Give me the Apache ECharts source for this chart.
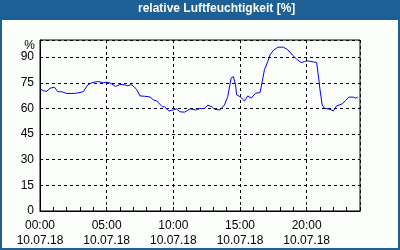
<!DOCTYPE html>
<html><head><meta charset="utf-8">
<script src="https://cdn.jsdelivr.net/npm/echarts@6/dist/echarts.min.js"></script>
<style>html,body{margin:0;padding:0;background:#1c6096;}#c{width:400px;height:250px;}</style>
</head><body><div id="c"></div>
<script>
const titleText = 'relative Luftfeuchtigkeit [%]';
const unitLabel = '%';
const dateLabel = '10.07.18';
const times = ['00:00','00:15','00:30','00:45','01:05','01:20','01:40','02:00','02:40','03:00','03:15','03:35','03:55','04:20','04:45','05:00','05:15','05:40','06:00','06:20','06:35','06:50','07:05','07:15','07:30','07:50','08:15','08:30','08:45','09:10','09:20','09:40','10:00','10:15','10:30','10:50','11:15','11:40','12:00','12:20','12:35','12:55','13:05','13:30','13:50','14:05','14:20','14:30','14:40','14:45','15:00','15:20','15:35','15:50','16:10','16:30','16:40','16:50','17:05','17:15','17:30','17:50','18:15','18:35','18:55','19:15','19:35','19:50','20:05','20:30','20:45','20:55','21:00','21:10','21:20','21:45','22:00','22:15','22:40','22:55','23:10','23:30','23:40','23:50'];
const humidity = [71.4,70.3,70,71.8,72.4,69.8,69.7,68.7,68.8,69.3,69.8,73.8,75.1,75.7,75.1,75.3,74.9,72.8,74,73.8,73.2,74,72.5,71,67.3,67.1,66.7,65,64.4,61,61,58.5,59.1,59.7,58,57.8,59.7,59.1,59.9,59.9,61.9,60.9,59.5,59.1,62,66.9,77.7,78.6,73.8,67.9,66.9,64.4,67.3,66,68.9,69.2,75.7,82.6,87.4,91.3,93.9,95.8,95.8,94.3,91.3,88.8,86.8,87.4,87.8,87.2,86.8,76.7,70.8,62,60.1,59.5,58.5,61.5,62.6,64.6,66.6,66.6,66,66.6];
const yTicks = [0,15,30,45,60,75,90];

function toMin(s){const p=s.split(':');return (+p[0])*60+(+p[1]);}
const data = times.map((t,i)=>[toMin(t),humidity[i]]);
const chart = echarts.init(document.getElementById('c'),null,{renderer:'canvas'});
const font = 'Liberation Sans';
chart.setOption({
  animation:false,
  backgroundColor:'#1c6096',
  graphic:[
    {type:'rect',z:-10,shape:{x:2,y:20,width:396,height:228},style:{fill:'#fbfefb'}},
    {type:'text',left:138,top:3,style:{text:titleText,fill:'#ffffff',font:'bold 12px "Liberation Sans"'}},
    {type:'text',x:35,y:46,style:{text:unitLabel,fill:'#000',font:'12px "Liberation Sans"',align:'right',verticalAlign:'middle'}}
  ],
  grid:{left:40,top:40,width:320,height:171,show:true,borderColor:'#000',borderWidth:1,backgroundColor:'transparent'},
  xAxis:{type:'value',min:0,max:1440,interval:300,
    axisLine:{lineStyle:{color:'#000',width:1}},
    axisTick:{show:true,inside:true,length:4,lineStyle:{color:'#000'}},
    minorTick:{show:true,splitNumber:5,length:4,lineStyle:{color:'#000'}},
    splitLine:{show:true,lineStyle:{color:'#000',type:[3,3],width:1}},
    axisLabel:{color:'#000',fontFamily:font,fontSize:12,margin:7,lineHeight:15,showMaxLabel:false,
      formatter:function(v){if(v>=1440)return '';const h=Math.floor(v/60),m=v%60;return (h<10?'0':'')+h+':'+(m<10?'0':'')+m+'\n'+dateLabel;}}
  },
  yAxis:{type:'value',min:0,max:100,interval:15,
    axisLine:{show:true,lineStyle:{color:'#000'}},
    axisTick:{show:false},
    splitLine:{show:true,lineStyle:{color:'#000',type:[3,3],width:1}},
    axisLabel:{color:'#000',fontFamily:font,fontSize:12,margin:6,
      formatter:function(v){return yTicks.indexOf(v)>=0?String(v):'';}}
  },
  series:[{type:'line',data:data,showSymbol:false,lineStyle:{color:'#0000ff',width:1},silent:true}]
});
</script></body></html>
